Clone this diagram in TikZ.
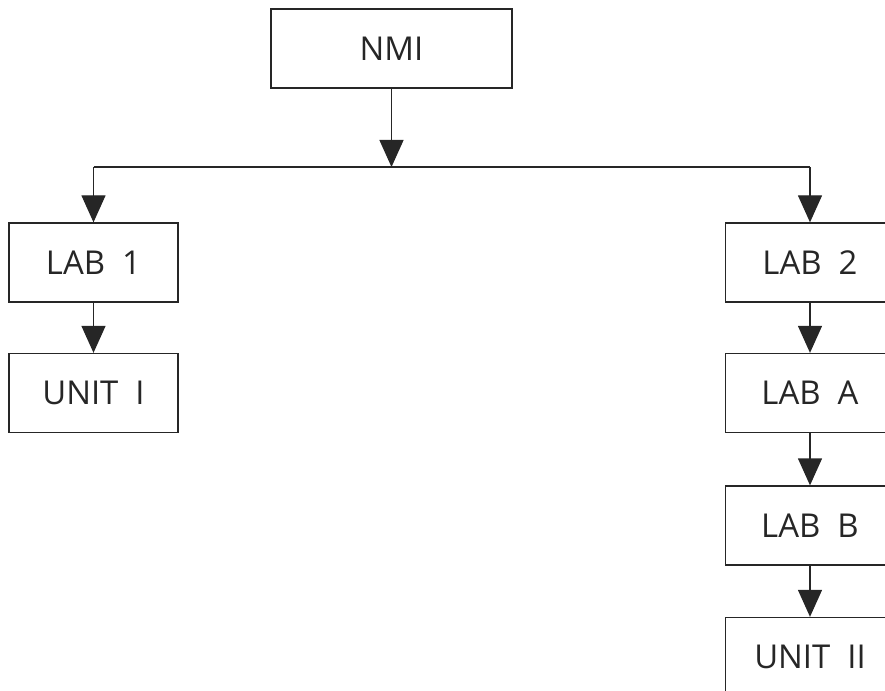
\documentclass[tikz,border=0pt]{standalone}
\usepackage{fontspec}
\setmainfont{Open Sans}
\usetikzlibrary{arrows.meta}
\tikzset{
  box/.style={draw=black!85, line width=1.3bp, minimum width=169bp, minimum height=79bp, inner sep=0pt, font=\fontsize{33}{38}\selectfont, text=black!85},
  conn/.style={draw=black!85, line width=1.3bp},
  arr/.style={conn, -{Triangle[length=27bp, width=24bp]}}
}
\begin{document}
\begin{tikzpicture}[x=1bp, y=-1bp]
\useasboundingbox (0,0) rectangle (885,691);
\clip (0,0) rectangle (885,691);
\node[box, minimum width=241bp] (nmi) at (391.5,48.5) {NMI};
\node[box] (lab1) at (93.5,262.5) {LAB\ \ 1};
\node[box] (unit1) at (93.5,393) {UNIT\ \ I};
\node[box] (lab2) at (810,262.5) {LAB\ \ 2};
\node[box] (laba) at (810,393) {LAB\ \ A};
\node[box] (labb) at (810,525.5) {LAB\ \ B};
\node[box] (unit2) at (810,657) {UNIT\ \ II};
\coordinate (j) at (391.5,167);
\coordinate (jl) at (93.5,167);
\coordinate (jr) at (810,167);
\draw[arr] (nmi.south) -- (j);
\draw[conn] (jl) -- (jr);
\draw[arr] (jl) -- (lab1.north);
\draw[arr] (jr) -- (lab2.north);
\draw[arr] (lab1.south) -- (unit1.north);
\draw[arr] (lab2.south) -- (laba.north);
\draw[arr] (laba.south) -- (labb.north);
\draw[arr] (labb.south) -- (unit2.north);
\end{tikzpicture}
\end{document}
